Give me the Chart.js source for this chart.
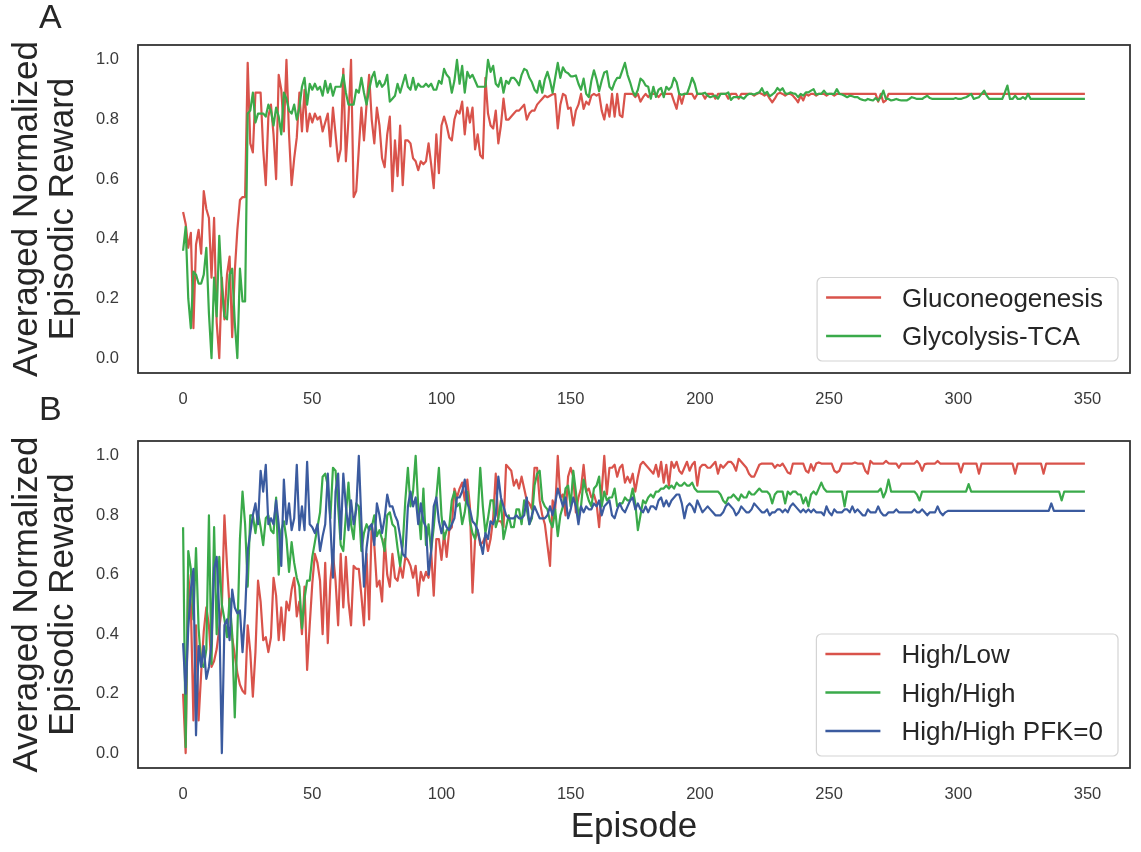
<!DOCTYPE html>
<html>
<head>
<meta charset="utf-8">
<title>Averaged Normalized Episodic Reward</title>
<script src="https://cdn.jsdelivr.net/npm/chart.js@4.4.1/dist/chart.umd.min.js"></script>
<style>
    html, body { margin: 0; padding: 0; background: #fff; }
    #wrap { position: relative; width: 1141px; height: 852px; overflow: hidden; }
    #wrap canvas { position: absolute; left: 0; }
    #chartA { top: 0; }
    #chartB { top: 396px; }
</style>
</head>
<body>
<div id="wrap">
    <canvas id="chartA" width="1141" height="420"></canvas>
    <canvas id="chartB" width="1141" height="456"></canvas>
</div>
<script>
const episodes = Array.from({ length: 350 }, (_, i) => i);
const xTicks = [0, 50, 100, 150, 200, 250, 300, 350];
const yTicks = [0, 0.2, 0.4, 0.6, 0.8, 1.0];

// Panel A
const gluconeogenesis = [
    .49,.45,.37,.42,.10,.38,.43,.35,.56,.50,
    .47,.27,.47,.12,.00,.27,.13,.28,.34,.07,
    .29,.43,.53,.54,.54,.99,.72,.69,.89,.89,
    .89,.70,.58,.81,.85,.75,.60,.95,.90,.76,
    1.0,.75,.58,.67,.74,.89,.76,.90,.76,.82,
    .79,.82,.80,.81,.76,.79,.82,.71,.84,.75,
    .66,.70,.97,.66,.80,1.0,.54,.56,.70,.84,
    .73,.85,.95,.80,.72,.84,.78,.67,.64,.75,
    .81,.56,.73,.61,.78,.58,.73,.73,.72,.67,
    .66,.63,.66,.65,.66,.72,.65,.57,.75,.62,
    .78,.81,.78,.74,.73,.80,.83,.82,.86,.75,
    .84,.79,.84,.70,.75,.68,.67,.94,.82,.78,
    .77,.83,.72,.78,.87,.80,.80,.81,.82,.83,
    .83,.84,.85,.80,.82,.83,.83,.85,.86,.87,
    .88,.875,.88,.885,.885,.77,.85,.886,.88,.836,
    .84,.78,.83,.85,.886,.836,.86,.85,.88,.886,
    .88,.886,.83,.80,.85,.81,.886,.81,.886,.815,
    .808,.886,.886,.886,.886,.875,.886,.86,.875,.886,
    .875,.886,.886,.886,.875,.886,.886,.886,.886,.886,
    .86,.836,.886,.853,.886,.886,.886,.886,.87,.886,
    .886,.886,.87,.886,.886,.886,.87,.886,.886,.886,
    .886,.87,.886,.886,.886,.87,.886,.886,.886,.886,
    .886,.88,.886,.89,.886,.88,.886,.87,.858,.87,
    .886,.89,.886,.88,.886,.886,.88,.87,.858,.88,
    .864,.886,.88,.886,.886,.88,.886,.886,.886,.88,
    .886,.886,.88,.886,.886,.886,.886,.886,.886,.886,
    .886,.886,.886,.886,.886,.886,.886,.886,.886,.86,
    .886,.858,.864,.886,.886,.886,.886,.886,.886,.886,
    .886,.886,.886,.886,.886,.886,.886,.886,.886,.886,
    .886,.886,.886,.886,.886,.886,.886,.886,.886,.886,
    .886,.886,.886,.886,.886,.886,.886,.886,.886,.886,
    .886,.886,.886,.886,.886,.886,.886,.886,.886,.886,
    .886,.886,.886,.886,.886,.886,.886,.886,.886,.886,
    .886,.886,.886,.886,.886,.886,.886,.886,.886,.886,
    .886,.886,.886,.886,.886,.886,.886,.886,.886,.886
];

const glycolysisTCA = [
    .36,.44,.20,.10,.29,.28,.25,.25,.28,.37,
    .15,.00,.27,.14,.41,.24,.14,.13,.28,.30,
    .12,.00,.30,.19,.19,.82,.83,.89,.79,.82,
    .82,.82,.81,.85,.83,.78,.84,.81,.75,.89,
    .87,.83,.82,.85,.80,.84,.91,.94,.85,.92,
    .90,.92,.90,.91,.88,.93,.89,.92,.88,.91,
    .91,.91,.95,.89,.85,.85,.85,.90,.89,.94,
    .89,.85,.90,.94,.96,.91,.93,.91,.92,.95,
    .86,.87,.88,.92,.89,.92,.95,.91,.90,.94,
    .90,.92,.91,.91,.92,.91,.92,.90,.90,.93,
    .92,.97,.95,.94,.89,.93,1.0,.92,.98,.89,
    .96,.94,.95,.93,.91,.91,.91,.91,1.0,.96,
    .98,.92,.91,.94,.89,.93,.92,.94,.94,.93,
    .915,.95,.97,.965,.94,.925,.90,.89,.93,.89,
    .935,.96,.93,.89,.94,.99,.94,.975,.96,.955,
    .945,.945,.948,.92,.90,.937,.886,.875,.93,.965,
    .935,.895,.93,.958,.962,.91,.90,.925,.94,.94,
    .965,.99,.95,.925,.895,.88,.90,.937,.93,.914,
    .91,.87,.91,.876,.90,.906,.875,.91,.90,.91,
    .94,.925,.886,.883,.886,.886,.91,.94,.92,.886,
    .886,.887,.89,.88,.875,.878,.88,.87,.886,.886,
    .886,.891,.866,.875,.875,.875,.875,.87,.88,.886,
    .886,.884,.888,.891,.905,.886,.893,.878,.884,.891,
    .906,.897,.905,.888,.886,.891,.888,.886,.875,.886,
    .880,.891,.891,.897,.902,.884,.886,.886,.897,.886,
    .886,.886,.886,.902,.886,.884,.880,.875,.880,.878,
    .875,.875,.869,.866,.864,.869,.866,.864,.872,.864,
    .875,.897,.869,.869,.864,.866,.869,.866,.864,.864,
    .864,.869,.875,.872,.869,.869,.869,.875,.880,.872,
    .869,.869,.869,.869,.869,.869,.869,.869,.869,.872,
    .869,.869,.872,.875,.880,.886,.869,.872,.875,.886,
    .897,.880,.869,.869,.869,.869,.869,.869,.890,.914,
    .869,.869,.880,.869,.869,.875,.869,.886,.869,.869,
    .869,.869,.869,.869,.869,.869,.869,.869,.869,.869,
    .869,.869,.869,.869,.869,.869,.869,.869,.869,.869
];

// Panel B
const highLow = [
    .20,.00,.60,.50,.11,.43,.11,.27,.41,.49,
    .43,.29,.31,.35,.42,.49,.80,.63,.49,.39,
    .33,.27,.23,.21,.20,.43,.34,.19,.34,.58,
    .51,.38,.39,.34,.39,.59,.53,.38,.49,.38,
    .51,.48,.55,.59,.46,.51,.40,.56,.28,.43,
    .57,.67,.64,.58,.40,.64,.37,.58,.67,.58,
    .43,.67,.49,.66,.51,.43,.63,.62,.62,.53,
    .43,.67,.45,.77,.70,.56,.58,.51,.72,.60,
    .56,.67,.59,.58,.63,.59,.66,.65,.63,.59,
    .63,.53,.61,.58,.61,.59,.68,.53,.72,.72,
    .65,.74,.66,.75,.76,.89,.86,.89,.91,.85,
    .92,.83,.54,.72,.75,.70,.71,.73,.68,.72,
    .79,.94,.78,.78,.76,.97,.96,.95,.90,.92,
    .89,.93,.89,.85,.84,.82,.96,.96,.85,.80,
    .77,.70,.63,.85,.82,1.0,.86,.87,.80,.93,
    .96,.93,.81,.86,.89,.97,.88,.89,.86,.87,
    .84,.76,.88,1.0,.87,.96,.96,.97,.93,.96,
    .97,.91,.93,.91,.94,.88,.93,.97,.98,.97,
    .96,.95,.94,.97,.93,.98,.91,.97,.90,.98,
    .96,.98,.95,.94,.96,.98,.95,.97,.98,.90,
    .96,.97,.97,.96,.96,.97,.98,.94,.97,.96,
    .97,.98,.98,.97,.95,.99,.98,.97,.96,.94,
    .93,.93,.95,.97,.974,.974,.974,.974,.974,.96,
    .97,.966,.974,.96,.944,.94,.974,.974,.974,.974,
    .974,.95,.944,.972,.95,.974,.978,.974,.974,.974,
    .974,.974,.95,.944,.95,.974,.974,.974,.974,.974,
    .978,.974,.974,.974,.95,.94,.983,.974,.974,.974,
    .974,.974,.983,.975,.974,.974,.974,.96,.974,.974,
    .974,.974,.974,.974,.983,.972,.95,.972,.974,.974,
    .974,.974,.983,.974,.974,.974,.974,.974,.974,.974,
    .974,.944,.974,.974,.974,.974,.974,.974,.94,.974,
    .974,.974,.974,.974,.974,.974,.974,.974,.974,.974,
    .974,.974,.94,.974,.974,.974,.974,.974,.974,.974,
    .974,.974,.974,.94,.974,.974,.974,.974,.974,.974,
    .974,.974,.974,.974,.974,.974,.974,.974,.974,.974
];

const highHigh = [
    .76,.02,.68,.62,.45,.69,.42,.30,.29,.35,
    .80,.30,.76,.40,.66,.50,.45,.39,.52,.40,
    .12,.40,.72,.88,.77,.56,.80,.80,.74,.81,
    .76,.70,.79,.80,.75,.74,.86,.60,.75,.78,
    .72,.61,.71,.64,.59,.56,.42,.52,.58,.58,
    .66,.71,.76,.81,.93,.94,.90,.79,.96,.95,
    .83,.70,.68,.80,.91,.77,.72,.84,.83,.68,
    .74,.77,.75,.76,.80,.73,.75,.72,.68,.80,
    .81,.77,.76,.69,.63,.70,.85,.96,.83,.88,
    1.0,.83,.72,.89,.70,.77,.68,.76,.86,.96,
    .80,.72,.75,.76,.85,.88,.83,.84,.77,.81,
    .88,.78,.74,.72,.80,.96,.83,.74,.79,.85,
    .85,.76,.79,.85,.72,.76,.80,.76,.76,.82,
    .82,.77,.85,.82,.77,.79,.90,.94,.95,.85,
    .83,.82,.78,.76,.82,.73,.80,.83,.89,.90,
    .83,.95,.88,.80,.83,.92,.88,.85,.83,.89,
    .90,.93,.83,.88,.85,.86,.86,.89,.83,.84,
    .84,.86,.85,.85,.89,.84,.75,.80,.85,.84,
    .86,.87,.86,.88,.88,.89,.89,.90,.89,.90,
    .89,.91,.90,.90,.91,.90,.90,.91,.89,.88,
    .88,.88,.88,.88,.88,.88,.88,.88,.87,.85,
    .84,.86,.86,.87,.86,.85,.87,.86,.86,.88,
    .87,.87,.88,.89,.88,.88,.88,.87,.84,.87,
    .88,.88,.88,.84,.88,.87,.88,.88,.87,.87,
    .84,.86,.83,.87,.88,.87,.89,.91,.89,.88,
    .88,.88,.88,.88,.88,.88,.83,.88,.88,.88,
    .88,.88,.88,.88,.88,.88,.88,.88,.88,.88,
    .89,.86,.88,.92,.88,.88,.88,.88,.88,.88,
    .88,.88,.88,.88,.87,.85,.88,.88,.88,.88,
    .88,.88,.88,.88,.88,.88,.88,.88,.88,.88,
    .88,.88,.88,.88,.905,.88,.88,.88,.88,.88,
    .88,.88,.88,.88,.88,.88,.88,.88,.88,.88,
    .88,.88,.88,.88,.88,.88,.88,.88,.88,.88,
    .88,.88,.88,.88,.88,.88,.88,.88,.88,.88,
    .85,.88,.88,.88,.88,.88,.88,.88,.88,.88
];

const highHighPFK0 = [
    .37,.20,.42,.55,.62,.06,.36,.29,.36,.25,
    .29,.37,.62,.66,.47,.00,.43,.45,.38,.55,
    .49,.47,.48,.34,.47,.68,.74,.80,.84,.77,
    .95,.88,.97,.77,.79,.77,.85,.77,.63,.92,
    .77,.84,.75,.79,.97,.75,.83,.75,.98,.77,
    .76,.74,.77,.68,.73,.77,.94,.77,.59,.88,
    .94,.72,.94,.83,.75,.85,.77,.82,1.0,.78,
    .56,.69,.76,.77,.70,.84,.80,.74,.79,.87,
    .83,.83,.80,.78,.73,.67,.66,.83,.88,.83,
    .86,.77,.84,.78,.76,.60,.68,.83,.86,.78,
    .74,.78,.76,.75,.77,.79,.86,.86,.88,.92,
    .84,.82,.78,.77,.75,.71,.67,.74,.72,.78,
    .77,.80,.93,.86,.83,.80,.79,.79,.79,.80,
    .79,.79,.80,.86,.77,.80,.83,.81,.79,.79,
    .79,.80,.83,.80,.84,.89,.86,.83,.86,.79,
    .82,.86,.83,.77,.83,.81,.83,.82,.82,.84,
    .83,.85,.80,.83,.84,.85,.80,.79,.82,.84,
    .82,.81,.83,.85,.86,.82,.84,.82,.81,.83,
    .81,.83,.83,.82,.85,.86,.83,.85,.83,.85,
    .86,.87,.87,.84,.79,.83,.84,.83,.81,.85,
    .83,.81,.82,.83,.82,.81,.80,.80,.80,.81,
    .83,.84,.83,.82,.80,.81,.83,.82,.81,.81,
    .82,.84,.83,.82,.81,.81,.82,.80,.81,.81,
    .82,.82,.81,.82,.81,.83,.84,.83,.82,.81,
    .82,.81,.82,.81,.82,.81,.81,.81,.80,.83,
    .81,.80,.82,.81,.81,.81,.82,.82,.81,.83,
    .81,.82,.81,.80,.80,.82,.81,.81,.81,.83,
    .81,.80,.80,.81,.81,.81,.82,.81,.81,.81,
    .81,.81,.81,.82,.81,.81,.82,.81,.80,.81,
    .81,.81,.83,.81,.80,.81,.815,.815,.815,.815,
    .815,.815,.815,.815,.815,.815,.815,.815,.815,.815,
    .815,.815,.815,.815,.815,.815,.815,.815,.815,.815,
    .815,.815,.815,.815,.815,.815,.815,.815,.815,.815,
    .815,.815,.815,.815,.815,.815,.84,.815,.815,.815,
    .815,.815,.815,.815,.815,.815,.815,.815,.815,.815
];

const RED = "#d9534b";
const GREEN = "#3aaa4a";
const BLUE = "#3b5b9f";
const TEXT = "#262626";
const TICK_TEXT = "#3a3a3a";
const FONT = '"Liberation Sans", Arial, Helvetica, sans-serif';

Chart.defaults.font.family = FONT;
Chart.defaults.color = TEXT;

// dark frame on all four sides of the plot area
const frame = {
    id: "frame",
    afterDatasetsDraw(chart) {
        const { ctx, chartArea: a } = chart;
        ctx.save();
        ctx.strokeStyle = "#333";
        ctx.lineWidth = 1.8;
        ctx.strokeRect(a.left, a.top, a.right - a.left, a.bottom - a.top);
        ctx.restore();
    }
};

// boxed legend in the lower right corner of the plot area
const cornerLegend = {
    id: "cornerLegend",
    afterDraw(chart) {
        const { ctx, chartArea: a } = chart;
        const sets = chart.data.datasets;
        const rowGap = 38.5;

        ctx.save();
        ctx.font = "26px " + FONT;
        const textW = Math.max(...sets.map(d => ctx.measureText(d.label).width));
        const w = 9 + 55 + 21 + textW + 15;
        const h = 20 + (sets.length - 1) * rowGap + 25;
        const x = a.right - 12 - w;
        const y = a.bottom - 12 - h;

        ctx.beginPath();
        ctx.roundRect(x, y, w, h, 5);
        ctx.fillStyle = "rgba(255,255,255,0.85)";
        ctx.fill();
        ctx.strokeStyle = "#d4d4d4";
        ctx.lineWidth = 1.2;
        ctx.stroke();

        sets.forEach((d, i) => {
            const cy = y + 20 + i * rowGap;
            ctx.strokeStyle = d.borderColor;
            ctx.lineWidth = 2.4;
            ctx.beginPath();
            ctx.moveTo(x + 9, cy);
            ctx.lineTo(x + 64, cy);
            ctx.stroke();

            ctx.fillStyle = TEXT;
            ctx.textBaseline = "middle";
            ctx.textAlign = "left";
            ctx.fillText(d.label, x + 85, cy + 2);
        });
        ctx.restore();
    }
};

// panel letter in the top left corner
const panelTag = {
    id: "panelTag",
    afterDraw(chart, args, opts) {
        const { ctx } = chart;
        ctx.save();
        ctx.font = "34px " + FONT;
        ctx.fillStyle = TEXT;
        ctx.textBaseline = "alphabetic";
        ctx.fillText(opts.text, 39, opts.baseline);
        ctx.restore();
    }
};

function line(label, values, color, order) {
    return {
        label: label,
        data: values,
        borderColor: color,
        backgroundColor: color,
        borderWidth: 2.2,
        borderJoinStyle: "round",
        pointRadius: 0,
        tension: 0,
        fill: false,
        order: order
    };
}

function buildScales(xAxisHeight, showEpisode) {
    return {
        x: {
            type: "linear",
            min: -17.45,
            max: 366.45,
            grid: { display: false, drawTicks: false },
            border: { display: false },
            afterBuildTicks: axis => { axis.ticks = xTicks.map(v => ({ value: v })); },
            afterFit: axis => { axis.height = xAxisHeight; },
            ticks: {
                autoSkip: false,
                maxRotation: 0,
                padding: 17,
                color: TICK_TEXT,
                font: { size: 16.5 },
                callback: v => String(v)
            },
            title: {
                display: showEpisode,
                text: "Episode",
                color: TEXT,
                font: { size: 35, lineHeight: 1 },
                padding: { top: 0, bottom: 7 }
            }
        },
        y: {
            min: -0.05,
            max: 1.05,
            grid: { display: false, drawTicks: false },
            border: { display: false },
            afterBuildTicks: axis => { axis.ticks = yTicks.map(v => ({ value: v })); },
            afterFit: axis => { axis.width = 138; },
            ticks: {
                padding: 19,
                color: TICK_TEXT,
                font: { size: 16.5 },
                callback: v => Number(v).toFixed(1)
            },
            title: {
                display: true,
                text: ["Averaged Normalized", "Episodic Reward"],
                color: TEXT,
                font: { size: 35, lineHeight: 1.03 },
                padding: { top: 9, bottom: 0 }
            }
        }
    };
}

function commonOptions(xAxisHeight, showEpisode, tag, tagBaseline) {
    return {
        responsive: false,
        animation: false,
        devicePixelRatio: 1,
        layout: { padding: { top: 45, right: 11, left: 0, bottom: 0 } },
        scales: buildScales(xAxisHeight, showEpisode),
        plugins: {
            legend: { display: false },
            tooltip: { enabled: false },
            panelTag: { text: tag, baseline: tagBaseline }
        }
    };
}

new Chart(document.getElementById("chartA"), {
    type: "line",
    data: {
        labels: episodes,
        datasets: [
            line("Gluconeogenesis", gluconeogenesis, RED, 1),
            line("Glycolysis-TCA", glycolysisTCA, GREEN, 0)
        ]
    },
    options: commonOptions(47, false, "A", 28),
    plugins: [frame, cornerLegend, panelTag]
});

new Chart(document.getElementById("chartB"), {
    type: "line",
    data: {
        labels: episodes,
        datasets: [
            line("High/Low", highLow, RED, 2),
            line("High/High", highHigh, GREEN, 1),
            line("High/High PFK=0", highHighPFK0, BLUE, 0)
        ]
    },
    options: commonOptions(84, true, "B", 24),
    plugins: [frame, cornerLegend, panelTag]
});
</script>
</body>
</html>
